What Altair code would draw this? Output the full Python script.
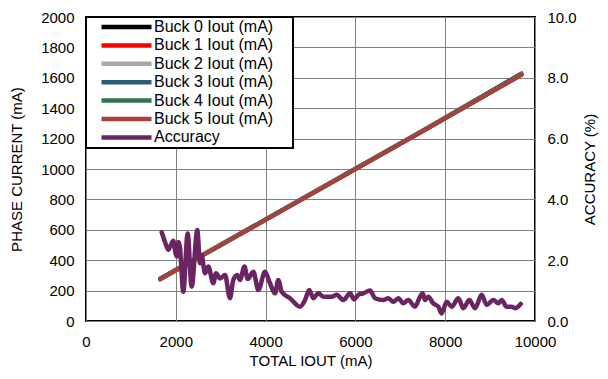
import altair as alt
import pandas as pd

series_names = ["Buck 0 Iout (mA)", "Buck 1 Iout (mA)", "Buck 2 Iout (mA)",
                "Buck 3 Iout (mA)", "Buck 4 Iout (mA)", "Buck 5 Iout (mA)", "Accuracy"]
series_colors = ["#000000", "#ff0000", "#a8a8a8", "#2b5c78", "#2e7450", "#a8403c", "#6a2462"]

buck_x = [1650, 3000, 4500, 6000, 7500, 9700]
buck0 = [279, 503, 753, 1004, 1253, 1629]
buck1 = [275, 500, 750, 1000, 1250, 1622]
buck2 = [276, 501, 751, 1001, 1251, 1624]
buck3 = [274, 499, 749, 999, 1249, 1620]
buck4 = [275, 500, 750, 1000, 1250, 1621]
buck5 = [273, 498, 748, 998, 1248, 1619]

acc_x = [1686, 1760, 1833, 1890, 1945, 1985, 2020, 2060, 2090, 2167, 2264, 2353, 2479, 2539,
         2576, 2650, 2724, 2835, 2895, 2984, 3096, 3207, 3281, 3370, 3430, 3530, 3600, 3727,
         3838, 3987, 4098, 4209, 4283, 4358, 4543, 4766, 4878, 4973, 5062, 5174, 5285, 5471,
         5583, 5731, 5880, 5969, 6064, 6176, 6325, 6436, 6622, 6733, 6845, 6956, 7067, 7179,
         7327, 7439, 7498, 7550, 7624, 7735, 7847, 7921, 8033, 8145, 8292, 8404, 8537, 8664,
         8813, 8924, 9072, 9183, 9257, 9369, 9480, 9555, 9681]
acc_y = [2.92, 2.6, 2.34, 2.5, 2.64, 2.3, 2.12, 2.6, 2.45, 0.96, 2.88, 1.13, 2.99, 1.9,
         2.17, 1.57, 1.79, 1.24, 1.57, 1.4, 1.51, 0.75, 1.35, 1.51, 1.35, 1.79, 1.38, 1.62,
         1.02, 1.62, 1.24, 0.91, 1.35, 0.96, 0.75, 0.47, 0.69, 1.02, 0.75, 0.91, 0.8, 0.8,
         0.86, 0.69, 0.91, 0.71, 0.86, 0.91, 1.0, 0.75, 0.69, 0.75, 0.63, 0.75, 0.58, 0.69,
         0.47, 0.8, 0.91, 0.69, 0.8, 0.58, 0.47, 0.25, 0.63, 0.47, 0.75, 0.42, 0.69, 0.42,
         0.86, 0.53, 0.69, 0.58, 0.69, 0.47, 0.47, 0.42, 0.56]

x_ticks = [0, 2000, 4000, 6000, 8000, 10000]
left_ticks = [0, 200, 400, 600, 800, 1000, 1200, 1400, 1600, 1800, 2000]
right_ticks = [0, 2, 4, 6, 8, 10]

rows = []
for name, vals in zip(series_names[:6], [buck0, buck1, buck2, buck3, buck4, buck5]):
    for i, (xv, yv) in enumerate(zip(buck_x, vals)):
        rows.append({"total": xv, "value": yv, "series": name, "order": i})
buck_df = pd.DataFrame(rows)
acc_df = pd.DataFrame({"total": acc_x, "acc": acc_y, "series": "Accuracy"})

FONT = "Liberation Sans"
PAD = "\u00a0" * 4 + "\u200b"

color = alt.Color(
    "series:N",
    scale=alt.Scale(domain=series_names, range=series_colors),
    sort=series_names,
    legend=alt.Legend(
        title=None, orient="top-left", offset=0, padding=2,
        symbolType="stroke", symbolSize=2500, symbolStrokeWidth=4.5,
        symbolOffset=11, labelOffset=0, rowPadding=2.4, clipHeight=16,
        labelFont=FONT, labelFontSize=16, labelColor="#000000", labelLimit=300,
        strokeColor="#000000", fillColor="#ffffff",
        labelExpr="datum.label + '" + PAD + "'",
    ),
)

xenc = alt.X("total:Q", scale=alt.Scale(domain=[0, 10000], nice=False),
             axis=alt.Axis(values=x_ticks, title="TOTAL IOUT (mA)", format="d",
                           labelPadding=13, titlePadding=4, labelFlush=False))

bucks = alt.Chart(buck_df).mark_line(strokeWidth=4, strokeCap="round").encode(
    x=xenc,
    y=alt.Y("value:Q", scale=alt.Scale(domain=[0, 2000], nice=False),
            axis=alt.Axis(values=left_ticks, title="PHASE CURRENT (mA)", format="d",
                          labelPadding=12, titlePadding=16, labelFlush=False)),
    color=color,
    order="order:Q",
)

acc = alt.Chart(acc_df).mark_line(strokeWidth=4.5, strokeCap="round", interpolate="monotone").encode(
    x=alt.X("total:Q"),
    y=alt.Y("acc:Q", scale=alt.Scale(domain=[0, 10], nice=False),
            axis=alt.Axis(values=right_ticks, title="ACCURACY (%)", format=".1f", orient="right",
                          grid=False, labelPadding=12, titlePadding=21, titleAngle=270,
                          labelFlush=False)),
    color=alt.Color("series:N"),
)

chart = alt.layer(bucks, acc).resolve_scale(y="independent").properties(
    width=449, height=304,
    padding={"left": 78, "top": 9, "right": 65, "bottom": 50},
    autosize=alt.AutoSizeParams(type="none"),
).configure_view(
    stroke="#000000", strokeWidth=2
).configure_axis(
    labelFont=FONT, labelFontSize=15, labelColor="#000000",
    titleFont=FONT, titleFontSize=15, titleFontWeight="normal", titleColor="#000000",
    gridColor="#808080", gridWidth=1, gridOpacity=1,
    ticks=False, domain=False,
).configure_legend(
    strokeWidth=2
)

chart.save("out.html", embed_options={"renderer": "svg", "actions": False})
